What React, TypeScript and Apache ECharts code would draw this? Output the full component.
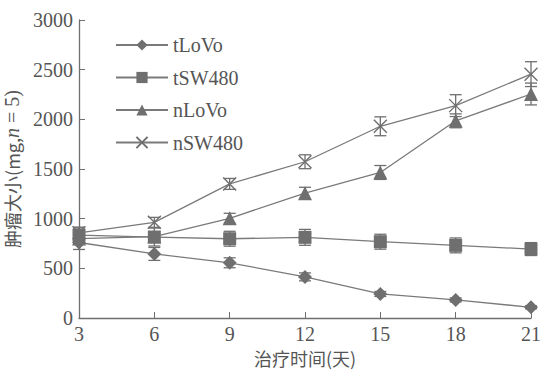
import React, { useEffect, useRef } from "react";
import * as echarts from "echarts";

const days = [3, 6, 9, 12, 15, 18, 21];
const yTicks = [0, 500, 1000, 1500, 2000, 2500, 3000];
const seriesNames = ["tLoVo", "tSW480", "nLoVo", "nSW480"];
const tLoVo = [760, 645, 556, 414, 242, 182, 108];
const tLoVoErr = [70, 65, 50, 40, 25, 20, 15];
const tSW480 = [835, 815, 798, 812, 768, 731, 694];
const tSW480Err = [80, 90, 75, 80, 75, 75, 65];
const nLoVo = [800, 820, 1004, 1256, 1465, 1985, 2255];
const nLoVoErr = [50, 50, 50, 60, 70, 70, 110];
const nSW480 = [858, 963, 1350, 1573, 1930, 2138, 2455];
const nSW480Err = [50, 50, 55, 70, 95, 110, 125];

const grey = "#6f6f6f";
const lineGrey = "#7a7a7a";
const textGrey = "#555555";
const serif = "'Liberation Serif', 'Times New Roman', serif";
const cjk = "'Noto Sans CJK SC', sans-serif";

const symbols = [
  "diamond",
  "rect",
  "triangle",
  "path://M0,0L10,10M10,0L0,10",
];
const symbolSizes = [14, 13, 14, 13];

function pairs(vals: number[]) {
  return days.map((d, i) => [d, vals[i]]);
}
function errData(vals: number[], errs: number[]) {
  return days.map((d, i) => [d, vals[i] - errs[i], vals[i] + errs[i]]);
}

export default function App() {
  const ref = useRef<HTMLDivElement>(null);
  useEffect(() => {
    if (!ref.current) return;
    const chart = echarts.init(ref.current, undefined, { renderer: "svg" });
    const allVals = [tLoVo, tSW480, nLoVo, nSW480];
    const allErrs = [tLoVoErr, tSW480Err, nLoVoErr, nSW480Err];

    const lineSeries = seriesNames.map((name, k) => ({
      name,
      type: "line",
      data: pairs(allVals[k]),
      symbol: symbols[k],
      symbolSize: symbolSizes[k],
      z: 3,
      lineStyle: { color: lineGrey, width: 1.3 },
      itemStyle:
        k === 3
          ? { color: "none", borderColor: grey, borderWidth: 1.4 }
          : { color: grey, borderColor: grey, borderWidth: 0 },
    }));

    const errSeries = seriesNames.map((name, k) => ({
      name: name + "_err",
      type: "custom",
      data: errData(allVals[k], allErrs[k]),
      z: 2,
      renderItem: (params: any, api: any) => {
        const x = api.value(0);
        const lo = api.coord([x, api.value(1)]);
        const hi = api.coord([x, api.value(2)]);
        const w = 6;
        const style = { stroke: grey, lineWidth: 1.3 };
        return {
          type: "group",
          children: [
            { type: "line", shape: { x1: lo[0], y1: lo[1], x2: hi[0], y2: hi[1] }, style },
            { type: "line", shape: { x1: lo[0] - w, y1: lo[1], x2: lo[0] + w, y2: lo[1] }, style },
            { type: "line", shape: { x1: hi[0] - w, y1: hi[1], x2: hi[0] + w, y2: hi[1] }, style },
          ],
        };
      },
    }));

    chart.setOption({
      animation: false,
      grid: { left: 79, right: 11, top: 20, bottom: 52, containLabel: false, outerBoundsMode: "none" },
      legend: {
        data: seriesNames,
        orient: "vertical",
        left: 110,
        top: 30,
        itemWidth: 52,
        itemHeight: 14,
        itemGap: 12.5,
        textStyle: { fontFamily: serif, fontSize: 20, color: textGrey },
      },
      xAxis: {
        type: "value",
        min: 3,
        max: 21,
        interval: 3,
        name: "治疗时间(天)",
        nameLocation: "middle",
        nameGap: 26,
        nameTextStyle: { fontFamily: cjk, fontSize: 18, color: textGrey },
        axisLine: { lineStyle: { color: grey, width: 1.3 } },
        axisTick: { inside: true, length: 6, lineStyle: { color: grey } },
        axisLabel: { fontFamily: serif, fontSize: 20, color: textGrey, margin: 6, formatter: (v: number) => String(v) },
        splitLine: { show: false },
      },
      yAxis: {
        type: "value",
        min: yTicks[0],
        max: yTicks[yTicks.length - 1],
        interval: yTicks[1] - yTicks[0],
        name: "{a|肿瘤大小(mg,}{i|n}{b| = 5)}",
        nameLocation: "middle",
        nameGap: 54,
        nameTextStyle: {
          color: textGrey,
          rich: {
            a: { fontFamily: cjk, fontSize: 18, color: textGrey },
            i: { fontFamily: serif, fontSize: 20, fontStyle: "italic", color: textGrey },
            b: { fontFamily: serif, fontSize: 20, color: textGrey },
          },
        },
        axisLine: { show: true, lineStyle: { color: grey, width: 1.3 } },
        axisTick: { show: true, inside: true, length: 6, lineStyle: { color: grey } },
        axisLabel: { fontFamily: serif, fontSize: 20, color: textGrey, margin: 6, formatter: (v: number) => String(v) },
        splitLine: { show: false },
      },
      series: [...errSeries, ...lineSeries],
    });
    return () => chart.dispose();
  }, []);
  return (
    <div
      ref={ref}
      style={{ position: "absolute", left: 0, top: 0, width: 542, height: 370 }}
    />
  );
}
